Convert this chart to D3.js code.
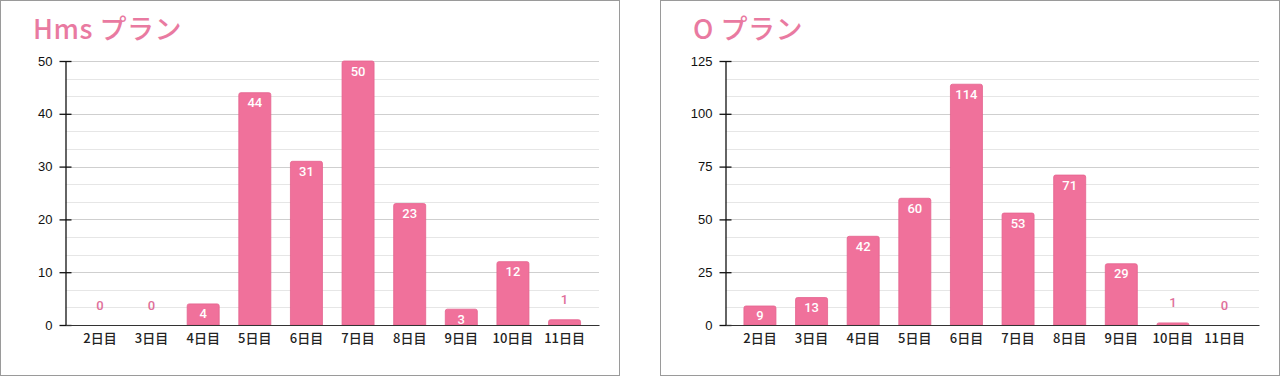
<!DOCTYPE html>
<html><head><meta charset="utf-8">
<script src="https://cdn.jsdelivr.net/npm/d3@7/dist/d3.min.js"></script>
<style>
html,body{margin:0;padding:0;background:#fff;}
svg{display:block;}
</style></head>
<body>
<svg id="chart" width="1280" height="376"></svg>
<script>
const categories = ["2日目","3日目","4日目","5日目","6日目","7日目","8日目","9日目","10日目","11日目"];
const hmsValues = [0,0,4,44,31,50,23,3,12,1];
const oValues = [9,13,42,60,114,53,71,29,1,0];
const hmsTicks = [0,10,20,30,40,50];
const oTicks = [0,25,50,75,100,125];
const titles = ["Hms プラン","O プラン"];

const svg = d3.select("#chart");
const W = 620, H = 376;
const barColor = "#f0719b", barStroke = "#e5628e", labelPink = "#e0709a", titleColor = "#e97aa1";

function panel(offsetX, title, values, ticks) {
  const g = svg.append("g").attr("transform", `translate(${offsetX},0)`);
  g.append("rect").attr("x",0.5).attr("y",0.5).attr("width",W-1).attr("height",H-1)
    .attr("fill","#fff").attr("stroke","#9a9a9a").attr("stroke-width",1);
  g.append("text").attr("x",33).attr("y",39).text(title)
    .attr("fill",titleColor).attr("font-family","'Noto Sans CJK JP', 'Noto Sans', sans-serif")
    .attr("font-weight","500").attr("font-size",27).attr("letter-spacing","0.5px");

  const x0 = 65.5, x1 = 599, yTop = 61, yBot = 325;
  const maxV = ticks[ticks.length-1];
  const y = d3.scaleLinear().domain([0,maxV]).range([yBot,yTop]);
  const x = d3.scaleBand().domain(categories).range([x0,x1]).paddingInner(0.38).paddingOuter(0.357);
  const step = ticks[1]-ticks[0];

  // minor gridlines (thirds)
  const minor = [];
  for (let i=0;i<ticks.length-1;i++){ minor.push(ticks[i]+step/3, ticks[i]+2*step/3); }
  g.selectAll(".minor").data(minor).enter().append("line")
    .attr("x1",x0).attr("x2",x1).attr("y1",d=>Math.round(y(d))+0.5).attr("y2",d=>Math.round(y(d))+0.5)
    .attr("stroke","#e6e6e6").attr("stroke-width",1);
  g.selectAll(".major").data(ticks.slice(1)).enter().append("line")
    .attr("x1",x0).attr("x2",x1).attr("y1",d=>Math.round(y(d))+0.5).attr("y2",d=>Math.round(y(d))+0.5)
    .attr("stroke","#cfcfcf").attr("stroke-width",1);

  // bars
  const r = 2;
  g.selectAll(".bar").data(values).enter().append("path")
    .attr("d",(d,i)=>{
      const bx = x(categories[i]), bw = x.bandwidth();
      const top = y(d), h = yBot - top;
      if (h <= 0) return "";
      const rr = Math.min(r,h);
      return `M${bx},${yBot}V${top+rr}Q${bx},${top} ${bx+rr},${top}H${bx+bw-rr}Q${bx+bw},${top} ${bx+bw},${top+rr}V${yBot}Z`;
    })
    .attr("fill",barColor).attr("stroke",barStroke).attr("stroke-width",0.8);

  // value labels
  g.selectAll(".lbl").data(values).enter().append("text")
    .attr("x",(d,i)=>x(categories[i])+x.bandwidth()/2)
    .attr("y",d=>{ const h=yBot-y(d); return h>=14 ? y(d)+14.5 : y(d)-15.5; })
    .attr("text-anchor","middle")
    .attr("font-family","Roboto, 'Noto Sans', sans-serif").attr("font-size",13).attr("font-weight",500)
    .attr("fill",d=> (yBot-y(d))>=14 ? "#fff" : labelPink)
    .text(d=>d);

  // y axis
  const yAxis = d3.axisLeft(y).tickValues(ticks).tickSize(0).tickPadding(13);
  const ya = g.append("g").attr("transform",`translate(${x0},0)`).call(yAxis);
  ya.select(".domain").attr("stroke","#111").attr("stroke-width",1.3);
  ya.selectAll(".tick").append("line").attr("x1",-6).attr("x2",6).attr("stroke","#111").attr("stroke-width",1.3);
  ya.selectAll("text").attr("font-family","'Liberation Sans', Arial, sans-serif").attr("font-size",13).attr("fill","#111");

  // x axis
  const xAxis = d3.axisBottom(x).tickSize(0).tickPadding(9);
  const xa = g.append("g").attr("transform",`translate(0,${yBot})`).call(xAxis);
  xa.select(".domain").attr("stroke","#333").attr("stroke-width",1.2);
  xa.selectAll("text").attr("font-family","'Noto Sans CJK JP', Roboto, sans-serif").attr("font-size",13).attr("font-weight",500).attr("fill","#222");
}

panel(0, titles[0], hmsValues, hmsTicks);
panel(660, titles[1], oValues, oTicks);
</script>
</body></html>
